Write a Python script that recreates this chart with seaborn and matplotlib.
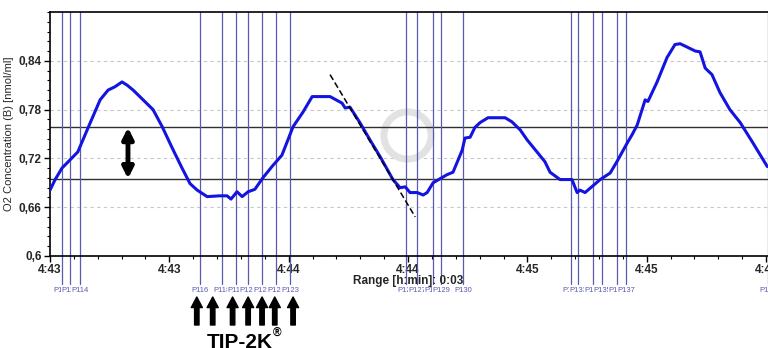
import numpy as np
import pandas as pd
import seaborn as sns
from matplotlib import pyplot as plt
from matplotlib.ticker import MultipleLocator, FixedLocator

# O2 trace (seconds from 4:43:00, nmol/ml)
t_sec = [0, 1.3, 3.0, 5.0, 7.0, 9.6, 12.6, 14.6, 16.3, 18.1, 19.4, 20.9, 23.4, 25.9,
         28.2, 30.7, 33.2, 35.2, 37.0, 39.5, 42.7, 44.5, 45.5, 47.0, 48.3, 49.8, 51.5,
         53.5, 55.8, 58.3, 61.1, 63.6, 65.9, 70.4, 73.4, 74.2, 75.4, 77.9, 80.4, 83.0,
         86.2, 88.0, 89.3, 90.5, 92.3, 93.8, 94.8, 96.3, 99.8, 101.3, 103.6, 104.3,
         105.6, 106.8, 108.1, 110.1, 112.4, 114.4, 116.1, 118.2, 119.9, 124.4, 125.7,
         128.2, 131.2, 132.5, 133.2, 134.5, 138.3, 140.8, 142.5, 145.1, 146.3, 147.6,
         149.6, 150.3, 152.6, 155.1, 157.1, 158.4, 162.2, 163.4, 164.7, 166.4, 168.4,
         170.9, 173.5, 176.7, 180.3]
o2 = [0.681, 0.694, 0.708, 0.718, 0.728, 0.758, 0.792, 0.804, 0.808, 0.814, 0.810,
      0.804, 0.792, 0.780, 0.759, 0.733, 0.708, 0.689, 0.681, 0.673, 0.674, 0.674,
      0.670, 0.679, 0.673, 0.679, 0.682, 0.696, 0.710, 0.724, 0.759, 0.777, 0.796,
      0.796, 0.788, 0.782, 0.783, 0.764, 0.743, 0.722, 0.694, 0.684, 0.685, 0.678,
      0.678, 0.675, 0.678, 0.690, 0.700, 0.703, 0.730, 0.745, 0.746, 0.758, 0.764,
      0.770, 0.770, 0.770, 0.765, 0.755, 0.743, 0.716, 0.703, 0.694, 0.694, 0.678,
      0.681, 0.678, 0.694, 0.702, 0.716, 0.739, 0.749, 0.761, 0.792, 0.790, 0.814,
      0.844, 0.860, 0.861, 0.852, 0.851, 0.831, 0.823, 0.801, 0.780, 0.764, 0.739,
      0.710]

# event markers
marker_t = [3.0, 5.0, 7.5, 37.7, 43.2, 46.8, 49.8, 53.3, 56.8, 60.3,
            89.5, 92.3, 96.3, 98.3, 103.8, 131.0, 132.7, 136.5, 138.8, 142.5, 144.8, 180.5]
marker_names = ['P112', 'P113', 'P114', 'P116', 'P118', 'P119', 'P120', 'P121', 'P122', 'P123',
                'P126', 'P127', 'P128', 'P129', 'P130', 'P132', 'P133', 'P134', 'P135', 'P136',
                'P137', 'P138']
tip_t = [36.9, 40.9, 45.9, 49.8, 53.3, 56.5, 61.1]

band = [0.695, 0.758]
slope_t = [70.4, 91.8]
slope_o2 = [0.823, 0.648]

xticks = [0, 30, 60, 90, 120, 150, 180]
xlabels = ['4:43', '4:43', '4:44', '4:44', '4:45', '4:45', '4:46']
yticks = [0.6, 0.66, 0.72, 0.78, 0.84]
ylabels = ['0,6', '0,66', '0,72', '0,78', '0,84']

sns.set_theme(style='ticks')
plt.rcParams['font.family'] = ['Liberation Sans', 'DejaVu Sans']

fig = plt.figure(figsize=(7.68, 3.48), dpi=100)
ax = fig.add_axes([50 / 768, 92 / 348, 732 / 768, 244 / 348])

df = pd.DataFrame({'t': t_sec, 'o2': o2})

for y in yticks[1:]:
    ax.axhline(y, color='#c8c8c8', lw=0.8, ls=(0, (3, 3)), zorder=0)
for y in band:
    ax.axhline(y, color='#303030', lw=1.0, zorder=1)

mcol = '#5a5ab4'
for t, name in zip(marker_t, marker_names):
    ax.axvline(t, ymin=-0.115, ymax=1, color=mcol, lw=0.9, clip_on=False, zorder=1)
    ax.text(t, -0.143, name, transform=ax.get_xaxis_transform(), ha='center', va='center',
            fontsize=5.5, color=mcol, bbox=dict(fc='white', ec='none', pad=0.3), zorder=2)

# faint watermark ring
ax.plot([89.8], [0.749], marker='o', ms=34, mfc='none', mec='#e2e2e2', mew=5, zorder=0)

sns.lineplot(data=df, x='t', y='o2', ax=ax, color='#1414e0', lw=2.2, zorder=3)
ax.plot(slope_t, slope_o2, color='black', lw=1.1, ls=(0, (4, 2)), zorder=4)

ax.annotate('', xy=(19.6, band[1]), xytext=(19.6, band[0]),
            arrowprops=dict(arrowstyle='<|-|>', lw=3.5, mutation_scale=16, color='black',
                            shrinkA=0, shrinkB=0), zorder=5)

for t in tip_t:
    ax.annotate('', xy=(t, 51), xytext=(t, 23), xycoords=('data', 'figure pixels'),
                textcoords=('data', 'figure pixels'), annotation_clip=False,
                arrowprops=dict(arrowstyle='simple,head_length=0.38,head_width=0.4,tail_width=0.16',
                                mutation_scale=20, color='black', shrinkA=0, shrinkB=0))
fig.text(273, 0, 'TIP-2K', transform=None, ha='right', va='baseline', fontsize=15,
         fontweight='bold', color='black')
fig.text(273, 12, '®', transform=None, ha='left', va='baseline', fontsize=8.5,
         fontweight='bold', color='black')

ax.text(90, -0.102, 'Range [h:min]: 0:03', transform=ax.get_xaxis_transform(),
        ha='center', va='center', fontsize=8.5, fontweight='bold')

ax.set_xlim(0, 184)
ax.set_ylim(0.6, 0.9)
ax.xaxis.set_major_locator(FixedLocator(xticks))
ax.set_xticklabels(xlabels, fontsize=8.5, fontweight='bold')
ax.xaxis.set_minor_locator(MultipleLocator(6))
ax.yaxis.set_major_locator(FixedLocator(yticks))
ax.set_yticklabels(ylabels, fontsize=8.5, fontweight='bold')
ax.yaxis.set_minor_locator(MultipleLocator(0.012))
ax.tick_params(which='major', direction='out', length=4, width=1, color='black', pad=2)
ax.tick_params(which='minor', direction='out', length=2.5, width=0.8, color='black')
ax.set_xlabel('')
ax.set_ylabel('O2 Concentration (B) [nmol/ml]', fontsize=8, labelpad=3)

for s in ax.spines.values():
    s.set_color('black')
    s.set_linewidth(1.2)
ax.spines['right'].set_visible(False)

fig.savefig('out.png', dpi=100, facecolor='white')
